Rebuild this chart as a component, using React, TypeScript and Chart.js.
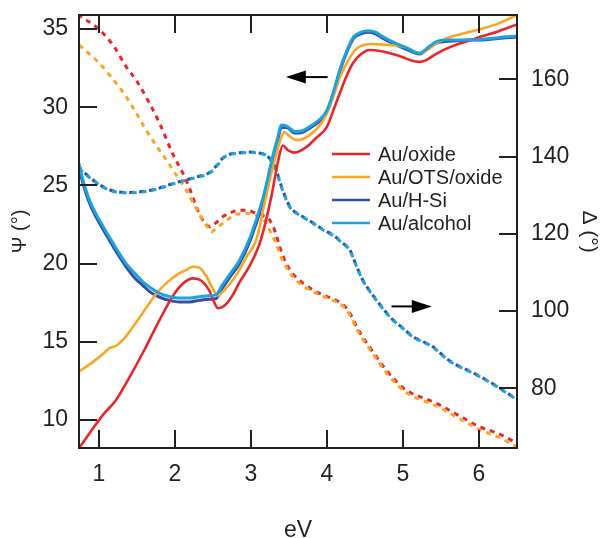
import React, { useEffect, useRef } from "react";
import { Chart, registerables } from "chart.js";

Chart.register(...registerables);

// ---------- labels / ticks ----------
const seriesNames = ["Au/oxide", "Au/OTS/oxide", "Au/H-Si", "Au/alcohol"];
const seriesColors = ["#e8262b", "#f8a624", "#33509f", "#1ca2df"];
const xTicks = [1, 2, 3, 4, 5, 6];
const psiTicks = [10, 15, 20, 25, 30, 35];
const deltaTicks = [80, 100, 120, 140, 160];
const xTitle = "eV";
const psiTitle = "Ψ (°)";
const deltaTitle = "Δ (°)";

// ---------- Ψ (solid, left axis) ----------
const oxidePsiEv = [0.74, 0.9, 1.05, 1.23, 1.4, 1.58, 1.8, 1.97, 2.1, 2.24, 2.35, 2.45, 2.52, 2.57, 2.65, 2.75, 2.85, 3.0, 3.13, 3.27, 3.36, 3.42, 3.49, 3.57, 3.73, 3.85, 4.0, 4.1, 4.17, 4.25, 4.34, 4.45, 4.56, 4.7, 4.83, 5.0, 5.1, 5.22, 5.3, 5.4, 5.55, 5.7, 5.9, 6.05, 6.25, 6.5];
const oxidePsi = [8.2, 9.3, 10.3, 11.3, 12.7, 14.3, 16.4, 17.9, 18.7, 19.06, 18.9, 18.3, 17.5, 17.15, 17.3, 17.9, 18.8, 20.0, 21.5, 24.3, 26.6, 27.55, 27.25, 27.1, 27.45, 28.0, 28.75, 30.0, 30.9, 31.9, 32.8, 33.4, 33.66, 33.6, 33.45, 33.2, 33.0, 32.9, 33.0, 33.3, 33.7, 34.0, 34.3, 34.55, 34.85, 35.3];

const otsPsiEv = [0.74, 0.92, 1.05, 1.14, 1.23, 1.35, 1.45, 1.6, 1.76, 1.9, 2.02, 2.15, 2.24, 2.32, 2.4, 2.5, 2.56, 2.65, 2.8, 2.95, 3.07, 3.2, 3.3, 3.38, 3.44, 3.52, 3.62, 3.77, 3.9, 4.0, 4.1, 4.17, 4.28, 4.39, 4.5, 4.6, 4.75, 4.9, 5.05, 5.22, 5.3, 5.44, 5.55, 5.7, 5.9, 6.05, 6.25, 6.5];
const otsPsi = [13.1, 13.7, 14.2, 14.6, 14.75, 15.3, 15.97, 17.0, 18.1, 18.8, 19.27, 19.6, 19.8, 19.75, 19.3, 18.4, 17.95, 18.3, 19.2, 20.5, 21.5, 24.3, 26.4, 27.8, 28.4, 28.1, 27.9, 28.2, 28.8, 29.6, 30.9, 31.9, 33.0, 33.75, 34.0, 34.05, 34.0, 33.95, 33.8, 33.45, 33.6, 34.08, 34.35, 34.6, 34.85, 35.04, 35.35, 35.9];

const blueEv = [0.74, 0.8, 0.86, 0.92, 1.03, 1.14, 1.25, 1.36, 1.47, 1.58, 1.7, 1.8, 1.93, 2.06, 2.2, 2.32, 2.45, 2.54, 2.62, 2.72, 2.85, 3.0, 3.16, 3.29, 3.35, 3.4, 3.47, 3.58, 3.68, 3.77, 3.9, 4.0, 4.1, 4.17, 4.26, 4.35, 4.45, 4.54, 4.64, 4.74, 4.9, 5.05, 5.22, 5.3, 5.44, 5.55, 5.7, 5.9, 6.05, 6.25, 6.5];
const hsiPsi = [26.1, 25.0, 24.1, 23.4, 22.4, 21.5, 20.6, 19.8, 19.1, 18.6, 18.1, 17.85, 17.65, 17.55, 17.55, 17.65, 17.72, 17.75, 18.4, 19.1, 20.0, 21.6, 24.0, 26.7, 27.8, 28.7, 28.7, 28.35, 28.4, 28.65, 29.1, 29.7, 31.1, 32.3, 33.5, 34.4, 34.7, 34.8, 34.7, 34.4, 34.0, 33.7, 33.4, 33.65, 34.1, 34.2, 34.25, 34.3, 34.3, 34.4, 34.5];
const alcoholPsi = [26.4, 25.2, 24.3, 23.6, 22.6, 21.7, 20.8, 20.0, 19.4, 18.84, 18.4, 18.1, 17.9, 17.8, 17.8, 17.88, 17.95, 18.0, 18.6, 19.3, 20.2, 21.8, 24.2, 26.9, 28.0, 28.86, 28.8, 28.45, 28.5, 28.75, 29.2, 29.8, 31.2, 32.4, 33.6, 34.5, 34.8, 34.9, 34.8, 34.5, 34.1, 33.8, 33.45, 33.7, 34.2, 34.3, 34.3, 34.32, 34.35, 34.45, 34.55];

// ---------- Δ (dashed, right axis) ----------
const oxideDeltaEv = [0.74, 1.01, 1.2, 1.36, 1.5, 1.62, 1.8, 1.97, 2.15, 2.32, 2.4, 2.46, 2.55, 2.63, 2.75, 2.85, 2.97, 3.07, 3.16, 3.25, 3.32, 3.38, 3.46, 3.55, 3.68, 3.82, 3.97, 4.12, 4.2, 4.26, 4.33, 4.39, 4.47, 4.56, 4.67, 4.78, 4.9, 5.04, 5.2, 5.35, 5.5, 5.61, 5.8, 6.01, 6.25, 6.5];
const oxideDelta = [176.6, 172.8, 168.5, 163.3, 159.5, 155.5, 148.6, 140.8, 133.9, 125.3, 122.7, 121.8, 123.0, 124.4, 125.6, 126.1, 126.0, 125.3, 124.7, 123.5, 120.5, 116.6, 112.5, 109.7, 107.3, 105.4, 104.0, 102.8, 101.8, 100.7, 98.5, 95.9, 93.3, 90.7, 87.6, 84.7, 82.0, 79.5, 78.0, 76.9, 75.5, 74.3, 72.2, 70.0, 68.3, 65.8];

const otsDeltaEv = [0.74, 1.01, 1.2, 1.36, 1.5, 1.62, 1.75, 1.89, 2.02, 2.15, 2.27, 2.37, 2.44, 2.48, 2.55, 2.68, 2.78, 2.88, 3.0, 3.11, 3.2, 3.27, 3.33, 3.42, 3.55, 3.68, 3.82, 3.97, 4.12, 4.2, 4.26, 4.33, 4.39, 4.47, 4.56, 4.67, 4.78, 4.9, 5.04, 5.2, 5.35, 5.5, 5.61, 5.8, 6.01, 6.25, 6.5];
const otsDelta = [168.9, 164.1, 159.7, 155.5, 151.0, 146.9, 143.0, 139.1, 135.2, 131.3, 127.0, 123.5, 121.5, 120.5, 121.5, 123.5, 124.8, 125.3, 125.2, 124.4, 122.8, 120.0, 117.5, 113.0, 108.9, 106.6, 105.0, 103.6, 102.4, 101.4, 100.2, 98.0, 95.4, 92.8, 90.2, 87.1, 84.1, 81.4, 78.9, 77.3, 76.2, 74.8, 73.6, 71.5, 69.3, 67.4, 64.8];

const blueDeltaEv = [0.74, 0.92, 1.14, 1.4, 1.71, 2.02, 2.32, 2.45, 2.55, 2.63, 2.72, 2.85, 2.98, 3.11, 3.22, 3.33, 3.4, 3.51, 3.68, 3.82, 3.95, 4.1, 4.2, 4.3, 4.38, 4.47, 4.56, 4.65, 4.76, 4.87, 5.0, 5.13, 5.26, 5.39, 5.52, 5.66, 5.83, 6.01, 6.23, 6.5];
const hsiDelta = [137.2, 134.0, 131.4, 130.7, 131.4, 133.3, 134.9, 135.8, 137.7, 139.6, 140.6, 141.0, 141.2, 140.9, 140.1, 136.7, 132.4, 127.2, 124.5, 122.8, 121.1, 119.4, 117.7, 115.9, 112.1, 108.1, 105.3, 102.9, 100.1, 97.7, 95.6, 93.4, 92.1, 90.8, 88.6, 86.5, 84.9, 83.1, 80.6, 77.1];
const alcoholDelta = [136.9, 133.9, 131.3, 130.6, 131.3, 133.2, 134.8, 135.6, 137.5, 139.5, 140.5, 140.9, 141.1, 140.8, 140.0, 136.5, 132.2, 127.0, 124.4, 122.7, 121.0, 119.3, 117.6, 115.8, 112.0, 108.0, 105.2, 102.8, 100.0, 97.6, 95.5, 93.3, 92.0, 90.7, 88.5, 86.4, 84.8, 83.0, 80.5, 77.0];

// ---------- annotation arrows (data coordinates) ----------
const psiArrow = { fromEv: 4.01, toEv: 3.46, value: 31.93 };
const deltaArrow = { fromEv: 4.85, toEv: 5.38, value: 101.2 };

const FONT = "'Liberation Sans', Arial, Helvetica, sans-serif";
const INK = "#231f20";

const pts = (xs: number[], ys: number[]) => xs.map((x, i) => ({ x, y: ys[i] }));

const decorPlugin = {
  id: "decor",
  afterDatasetsDraw(chart: any) {
    const { ctx, chartArea: a, scales } = chart;
    const x = scales.x;
    const yl = scales.yPsi;
    const yr = scales.yDelta;
    ctx.save();
    ctx.strokeStyle = INK;
    ctx.lineWidth = 2;
    ctx.strokeRect(a.left, a.top, a.right - a.left, a.bottom - a.top);
    const T = 18;
    ctx.beginPath();
    xTicks.forEach((v) => {
      const px = Math.round(x.getPixelForValue(v));
      ctx.moveTo(px, a.bottom);
      ctx.lineTo(px, a.bottom - T);
      ctx.moveTo(px, a.top);
      ctx.lineTo(px, a.top + T);
    });
    psiTicks.forEach((v) => {
      const py = Math.round(yl.getPixelForValue(v));
      ctx.moveTo(a.left, py);
      ctx.lineTo(a.left + T, py);
    });
    deltaTicks.forEach((v) => {
      const py = Math.round(yr.getPixelForValue(v));
      ctx.moveTo(a.right, py);
      ctx.lineTo(a.right - T, py);
    });
    ctx.stroke();

    // legend
    const lx = a.left + 253;
    const ly = a.top + 139;
    ctx.font = `20px ${FONT}`;
    ctx.textBaseline = "middle";
    ctx.textAlign = "left";
    seriesNames.forEach((name, i) => {
      const y = ly + i * 23;
      ctx.strokeStyle = seriesColors[i];
      ctx.lineWidth = 2.5;
      ctx.beginPath();
      ctx.moveTo(lx, y);
      ctx.lineTo(lx + 38, y);
      ctx.stroke();
      ctx.fillStyle = INK;
      ctx.fillText(name, lx + 46, y + 1);
    });

    // arrows
    const drawArrow = (x0: number, x1: number, y: number) => {
      const dir = Math.sign(x1 - x0);
      const head = 20;
      ctx.strokeStyle = "#000";
      ctx.fillStyle = "#000";
      ctx.lineWidth = 2;
      ctx.beginPath();
      ctx.moveTo(x0, y);
      ctx.lineTo(x1 - dir * head + dir * 2, y);
      ctx.stroke();
      ctx.beginPath();
      ctx.moveTo(x1, y);
      ctx.lineTo(x1 - dir * head, y - 6.5);
      ctx.lineTo(x1 - dir * head, y + 6.5);
      ctx.closePath();
      ctx.fill();
    };
    drawArrow(
      x.getPixelForValue(psiArrow.fromEv),
      x.getPixelForValue(psiArrow.toEv),
      yl.getPixelForValue(psiArrow.value)
    );
    drawArrow(
      x.getPixelForValue(deltaArrow.fromEv),
      x.getPixelForValue(deltaArrow.toEv),
      yr.getPixelForValue(deltaArrow.value)
    );
    ctx.restore();
  },
};

export default function App() {
  const ref = useRef<HTMLCanvasElement | null>(null);

  useEffect(() => {
    if (!ref.current) return;
    const solid = (label: string, xs: number[], ys: number[], color: string, order: number, width = 2.6) => ({
      label,
      data: pts(xs, ys),
      yAxisID: "yPsi",
      borderColor: color,
      backgroundColor: color,
      borderWidth: width,
      pointRadius: 0,
      cubicInterpolationMode: "monotone" as const,
      order,
    });
    const dashed = (label: string, xs: number[], ys: number[], color: string, order: number, offset = 0) => ({
      label,
      data: pts(xs, ys),
      yAxisID: "yDelta",
      borderColor: color,
      backgroundColor: color,
      borderWidth: 3,
      borderDash: [5, 5],
      borderDashOffset: offset,
      pointRadius: 0,
      cubicInterpolationMode: "monotone" as const,
      order,
    });

    const vFit = (w: number) => (s: any) => {
      s.width = w;
      s.paddingTop = 0;
      s.paddingBottom = 0;
    };

    const chart = new Chart(ref.current, {
      type: "line",
      data: {
        datasets: [
          solid(seriesNames[3], blueEv, alcoholPsi, seriesColors[3], 1, 3),
          solid(seriesNames[1], otsPsiEv, otsPsi, seriesColors[1], 2),
          solid(seriesNames[0], oxidePsiEv, oxidePsi, seriesColors[0], 3),
          solid(seriesNames[2], blueEv, hsiPsi, seriesColors[2], 4, 3),
          dashed(seriesNames[3], blueDeltaEv, alcoholDelta, seriesColors[3], 5, 0),
          dashed(seriesNames[2], blueDeltaEv, hsiDelta, seriesColors[2], 6, 2),
          dashed(seriesNames[1], otsDeltaEv, otsDelta, seriesColors[1], 7, 0),
          dashed(seriesNames[0], oxideDeltaEv, oxideDelta, seriesColors[0], 8, 1.5),
        ],
      },
      options: {
        responsive: false,
        animation: false,
        events: [],
        layout: { padding: { top: 15, left: 0, right: 0, bottom: 0 } },
        plugins: { legend: { display: false }, tooltip: { enabled: false } },
        scales: {
          x: {
            type: "linear",
            min: 0.74,
            max: 6.5,
            afterFit: (s: any) => {
              s.height = 90;
              s.paddingLeft = 0;
              s.paddingRight = 0;
            },
            afterBuildTicks: (s: any) => {
              s.ticks = xTicks.map((v) => ({ value: v }));
            },
            grid: { display: false, drawTicks: false },
            border: { display: false },
            ticks: {
              font: { family: FONT, size: 23 },
              color: INK,
              padding: 13,
              maxRotation: 0,
              autoSkip: false,
            },
            title: {
              display: true,
              text: xTitle,
              color: INK,
              font: { family: FONT, size: 23, lineHeight: 0.6 },
              padding: 0,
            },
          },
          yPsi: {
            type: "linear",
            position: "left",
            min: 8.21,
            max: 35.9,
            afterFit: vFit(79),
            afterBuildTicks: (s: any) => {
              s.ticks = psiTicks.map((v) => ({ value: v }));
            },
            grid: { display: false, drawTicks: false },
            border: { display: false },
            ticks: { font: { family: FONT, size: 23 }, color: INK, padding: 11, autoSkip: false },
            title: {
              display: true,
              text: psiTitle,
              color: INK,
              font: { family: FONT, size: 20 },
              padding: { top: 8, bottom: 0 },
            },
          },
          yDelta: {
            type: "linear",
            position: "right",
            min: 64.54,
            max: 176.65,
            afterFit: vFit(84),
            afterBuildTicks: (s: any) => {
              s.ticks = deltaTicks.map((v) => ({ value: v }));
            },
            grid: { display: false, drawTicks: false },
            border: { display: false },
            ticks: { font: { family: FONT, size: 23 }, color: INK, padding: 14, autoSkip: false },
            title: {
              display: true,
              text: deltaTitle,
              color: INK,
              font: { family: FONT, size: 21 },
              padding: { top: 0, bottom: 0 },
            },
          },
        },
      },
      plugins: [decorPlugin],
    });
    return () => chart.destroy();
  }, []);

  return (
    <div style={{ position: "absolute", left: 0, top: 0, width: 601, height: 538, background: "#fff" }}>
      <canvas ref={ref} width={601} height={538} style={{ display: "block" }} />
    </div>
  );
}
